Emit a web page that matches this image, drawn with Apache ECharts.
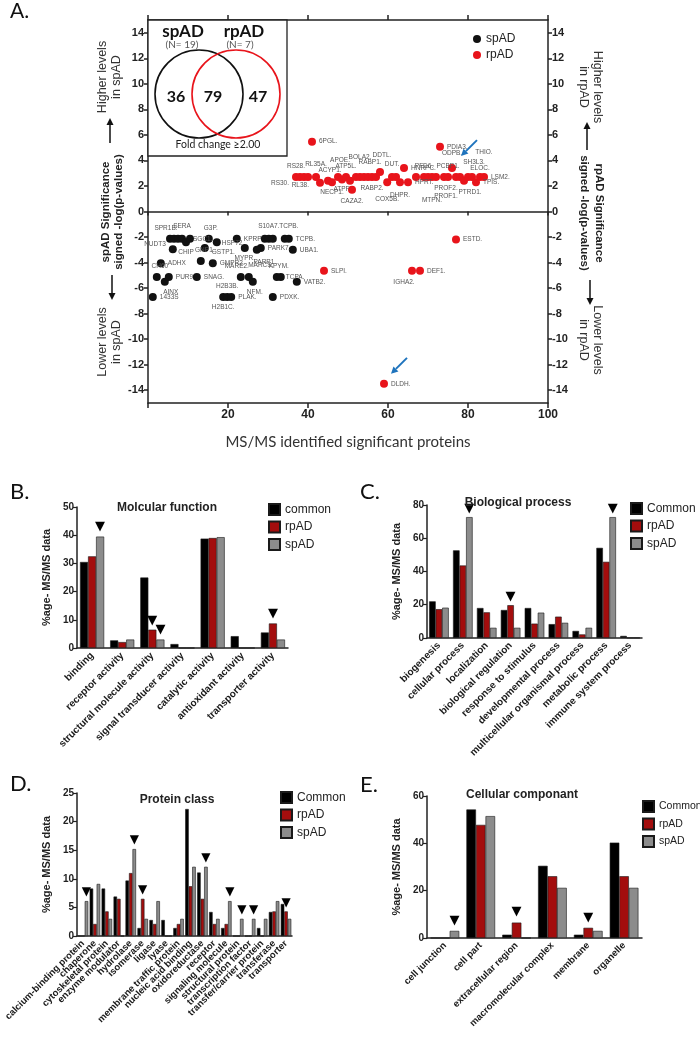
<!DOCTYPE html>
<html>
<head>
<meta charset="utf-8">
<script src="https://cdn.jsdelivr.net/npm/echarts@6/dist/echarts.min.js"></script>
<style>
  body { margin: 0; background: #fff; width: 700px; height: 1039px; position: relative; overflow: hidden; }
  .panel { position: absolute; }
</style>
</head>
<body>
<div id="chartA" class="panel" style="left:0;top:0;width:700px;height:470px"></div>
<div id="chartB" class="panel" style="left:0;top:480px;width:350px;height:280px"></div>
<div id="chartC" class="panel" style="left:350px;top:480px;width:350px;height:280px"></div>
<div id="chartD" class="panel" style="left:0;top:740px;width:350px;height:299px"></div>
<div id="chartE" class="panel" style="left:350px;top:740px;width:350px;height:299px"></div>
<script>
const FONT = '"Liberation Sans", Arial, sans-serif';
const BLACK = '#000000';
const RED = '#a30d0d';
const GREY = '#8c8c8c';

// ---- Panel A: significant proteins (x, signed -log p, name) ----
const spadPoints = [
  [5.5, -2.14, 'SPR1B.'], [6.5, -2.14, ''], [7.5, -2.14, ''], [8.5, -2.14, 'SERA'],
  [9.5, -2.4, 'CHIP'], [10.5, -2.14, 'SGC1.'], [6.2, -2.95, 'NUDT3'], [3.2, -4.05, 'ADHX'],
  [2.2, -5.13, 'CH60'], [4.2, -5.5, 'AINX'], [5.2, -5.13, 'PUR9'], [1.2, -6.7, '1433S'],
  [12.2, -5.13, 'SNAG.'], [13.2, -3.87, 'GNP1.'], [16.2, -4.05, 'GMPR2.'], [14.2, -2.85, 'GSTP1.'],
  [15.2, -2.14, 'G3P.'], [17.2, -2.4, 'HSP72'], [22.2, -2.14, 'KPRP.'], [24.2, -2.85, 'MYPR.'],
  [27.2, -3.0, 'PARP1.'], [28.2, -2.85, 'PARK7.'], [29.2, -2.14, ''], [30.2, -2.14, 'S10A7.'],
  [31.2, -2.14, ''], [34.2, -2.14, 'TCPB.'], [35.2, -2.14, 'TCPB.'], [36.2, -3.0, 'UBA1.'],
  [23.2, -5.13, 'MARE2.'], [25.2, -5.13, 'MARCS.'], [26.2, -5.5, 'NFM.'], [32.2, -5.13, 'KPYM.'],
  [33.2, -5.13, 'TCPA.'], [37.2, -5.5, 'VATB2.'], [18.8, -6.7, 'H2B1C.'], [19.8, -6.7, 'H2B3B.'],
  [20.8, -6.7, 'PLAK.'], [31.2, -6.7, 'PDXK.']
];
const rpadPoints = [
  [41, 5.47, '6PGL.'], [73, 5.07, 'PDIA3.'],
  [37, 2.7, 'RS30.'], [38, 2.7, 'RS28.'], [39, 2.7, ''], [40, 2.7, ''],
  [42, 2.7, 'RL35A.'], [43, 2.25, 'RL38.'], [45, 2.4, 'ACYP1.'], [46, 2.3, 'NECP1.'],
  [47.5, 2.7, 'APOE.'], [48.5, 2.5, 'ATPF.'], [49.5, 2.7, 'ATP5L.'], [50.5, 2.4, ''],
  [51, 1.7, 'CAZA2.'], [52, 2.7, ''], [53, 2.7, 'BOLA2.'], [54, 2.7, ''], [55, 2.7, 'RABP1.'],
  [56, 2.7, 'RABP2.'], [57, 2.7, ''], [58, 3.1, 'DDTL.'], [59.8, 2.3, 'COX5B.'], [61, 2.7, 'DUT.'],
  [62, 2.7, ''], [63, 2.3, 'DHPR.'], [64, 3.4, 'HNRPC.'], [65, 2.3, 'HPRT.'], [67, 2.7, ''],
  [69, 2.7, 'PFD6.'], [70, 2.7, ''], [71, 2.7, 'MTPN.'], [72, 2.7, ''], [74, 2.7, 'PROF2.\nPROF1.'],
  [75, 2.7, 'PCBP1.'], [76, 3.4, 'ODPB.'], [77, 2.7, ''], [78, 2.7, ''], [79, 2.4, 'PTRD1.'],
  [80, 2.7, 'SH3L3.'], [81, 2.7, 'ELOC.'], [82, 2.3, 'TPIS.'], [83, 2.7, 'THIO.'], [84, 2.7, 'LSM2.'],
  [44, -4.65, 'SLPI.'], [66, -4.65, 'IGHA2.'], [68, -4.65, 'DEF1.'], [77, -2.2, 'ESTD.'], [59, -13.5, 'DLDH.']
];
const yTickValues = [-14, -12, -10, -8, -6, -4, -2, 0, 2, 4, 6, 8, 10, 12, 14];
const vennCounts = ['36', '79', '47'];

// label placement for point names: [position, dx, dy]
const labelLayout = {
  'RS30.': ['left', 0, 6], 'RS28.': ['top', -4, 0], 'RL35A.': ['top', 0, -2], 'RL38.': ['left', -4, 2],
  'ACYP1.': ['top', 2, 0], 'NECP1.': ['bottom', 0, -1], 'APOE.': ['top', 2, -6], 'ATPF.': ['bottom', 0, -1],
  'ATP5L.': ['top', 0, 0], 'CAZA2.': ['bottom', 0, 0], 'BOLA2.': ['top', 0, -9], 'RABP1.': ['top', 2, -4],
  'RABP2.': ['bottom', 0, 0], 'DDTL.': ['top', 2, -6], 'COX5B.': ['bottom', 0, 6], 'DUT.': ['top', 0, -2],
  'DHPR.': ['bottom', 0, 2], 'PFD6.': ['top', 0, 0], 'MTPN.': ['bottom', 0, 12], 'PROF2.\nPROF1.': ['bottom', 2, 0],
  'PCBP1.': ['top', 0, 0], 'ODPB.': ['top', 0, -4], 'PTRD1.': ['bottom', 6, 0], 'SH3L3.': ['top', 6, -4],
  'ELOC.': ['top', 8, 2], 'THIO.': ['top', 4, -14], 'IGHA2.': ['bottom', -8, 0],
  'SPR1B.': ['top', -4, 0], 'SERA': ['top', 0, -2], 'CHIP': ['bottom', 0, 0], 'SGC1.': ['right', -4, 0],
  'NUDT3': ['left', 0, -5], 'CH60': ['top', 3, 0], 'AINX': ['bottom', 6, 0], 'GNP1.': ['top', 4, 0],
  'GSTP1.': ['right', 0, 4], 'G3P.': ['top', 2, 0], 'HSP72': ['right', -2, 1], 'MYPR.': ['bottom', 0, 0],
  'PARP1.': ['bottom', 8, 2], 'S10A7.': ['top', 0, -2], 'TCPB.@34.2': ['top', 4, -2], 'MARE2.': ['top', -4, 0],
  'MARCS.': ['top', 12, -1], 'NFM.': ['bottom', 2, 0], 'KPYM.': ['top', 2, 0], 'TCPA.': ['right', -2, 0],
  'H2B1C.': ['bottom', 0, 0], 'H2B3B.': ['top', 0, 0]
};

// ---- Panels B-E: %age of MS/MS data ----
const bCategories = ['binding', 'receptor activity', 'structural molecule activity', 'signal transducer activity',
  'catalytic activity', 'antioxidant activity', 'transporter activity'];
const bCommon = [30.5, 2.7, 25, 1.4, 38.8, 4.2, 5.5];
const bRpad = [32.5, 2.1, 6.5, 0, 39, 0, 8.7];
const bSpad = [39.5, 3.0, 3.0, 0, 39.3, 0, 3.0];
const bMarks = [[0, 2], [2, 1], [2, 2], [6, 1]];

const cCategories = ['biogenesis', 'cellular process', 'localization', 'biological regulation', 'response to stimulus',
  'developmental process', 'multicellular organismal process', 'metabolic process', 'immune system process'];
const cCommon = [22, 52.7, 18, 16.8, 18, 8.3, 4.2, 54.2, 1.2];
const cRpad = [17.3, 43.6, 15.4, 19.7, 8.6, 12.8, 2.1, 45.8, 0];
const cSpad = [18.2, 72.7, 6.1, 6.1, 15.2, 9.1, 6.1, 72.7, 0];
const cMarks = [[1, 2], [3, 1], [7, 2]];

const dCategories = ['calcium-binding protein', 'chaperone', 'cytoskeletal protein', 'enzyme modulator', 'hydrolase',
  'isomerase', 'ligase', 'lyase', 'membrane traffic protein', 'nucleic acid binding', 'oxidoreductase', 'receptor',
  'signaling molecule', 'structural protein', 'transcription factor', 'transfer/carrier protein', 'transferase', 'transporter'];
const dCommon = [0, 8.3, 8.3, 6.9, 9.7, 1.4, 2.8, 2.8, 1.4, 22.2, 11.1, 4.2, 1.4, 0, 0, 1.4, 4.2, 5.6];
const dRpad = [0, 2.1, 4.3, 6.5, 11, 6.5, 2.1, 0, 2.1, 8.7, 6.5, 2.1, 2.1, 0, 0, 0, 4.3, 4.3];
const dSpad = [6.1, 9.1, 3.0, 0, 15.2, 3.0, 6.1, 0, 3.0, 12.1, 12.1, 3.0, 6.1, 3.0, 3.0, 3.0, 6.1, 3.0];
const dMarks = [[0, 2], [4, 2], [5, 1], [10, 2], [12, 2], [13, 2], [14, 2], [17, 1]];

const eCategories = ['cell junction', 'cell part', 'extracellular region', 'macromolecular complex', 'membrane', 'organelle'];
const eCommon = [0, 54.3, 1.4, 30.5, 1.4, 40.3];
const eRpad = [0, 47.8, 6.5, 26.1, 4.3, 26.1];
const eSpad = [3.0, 51.5, 0, 21.2, 3.0, 21.2];
const eMarks = [[0, 2], [2, 1], [4, 1]];

// ---------- helpers ----------
const text = (str, x, y, font, opts = {}) => ({
  type: 'text', x, y, rotation: opts.rotation || 0, z: 20,
  style: {
    text: str, font, fill: opts.fill || '#222',
    textAlign: opts.align || 'center', textVerticalAlign: opts.valign || 'middle'
  }
});

const arrow = (x1, y1, x2, y2, color, width, head) => {
  const ang = Math.atan2(y2 - y1, x2 - x1);
  const bx = x2 - head * Math.cos(ang), by = y2 - head * Math.sin(ang);
  const px = Math.sin(ang) * head * 0.5, py = -Math.cos(ang) * head * 0.5;
  return [
    { type: 'line', z: 20, shape: { x1, y1, x2: bx, y2: by }, style: { stroke: color, lineWidth: width } },
    { type: 'polygon', z: 20, shape: { points: [[x2, y2], [bx + px, by + py], [bx - px, by - py]] }, style: { fill: color } }
  ];
};

const pointItems = (points) => points.map(([x, y, name]) => {
  const lay = labelLayout[name + '@' + x] || labelLayout[name] || ['right', 0, 0];
  return {
    value: [x, y], name,
    label: { show: name !== '', position: lay[0], offset: [lay[1], lay[2]] }
  };
});

// ---------- Panel A ----------
const chartA = echarts.init(document.getElementById('chartA'));
const axisLine = { lineStyle: { color: '#222', width: 1.5 } };
const tickLabel = { fontFamily: FONT, fontWeight: 'bold', fontSize: 11, color: '#222' };

chartA.setOption({
  animation: false,
  backgroundColor: '#fff',
  grid: { left: 148, top: 20, width: 400, height: 383 },
  legend: {
    data: ['spAD', 'rpAD'], orient: 'vertical', left: 468, top: 28,
    icon: 'circle', itemWidth: 8, itemHeight: 8, itemGap: 4,
    textStyle: { fontFamily: FONT, fontSize: 12, color: '#222' }
  },
  xAxis: [
    {
      type: 'value', min: 0, max: 100, interval: 20, position: 'bottom',
      axisLine: { onZero: false, ...axisLine },
      axisTick: { length: 5, lineStyle: { color: '#222', width: 1.5 } },
      axisLabel: { ...tickLabel, fontSize: 12, margin: 6, formatter: v => (v === 0 ? '' : v) },
      splitLine: { show: false },
      name: 'MS/MS identified significant proteins', nameLocation: 'middle', nameGap: 32,
      nameTextStyle: { fontFamily: 'Lato, "Open Sans", sans-serif', fontSize: 15, color: '#333' }
    },
    {
      type: 'value', min: 0, max: 100, interval: 20, position: 'top',
      axisLine: { onZero: false, ...axisLine },
      axisTick: { length: 5, lineStyle: { color: '#222', width: 1.5 } },
      axisLabel: { show: false }, splitLine: { show: false }
    },
    {
      type: 'value', min: 0, max: 100, interval: 20, position: 'bottom',
      axisLine: { onZero: true, onZeroAxisIndex: 0, ...axisLine },
      axisTick: { length: 4, lineStyle: { color: '#222', width: 1.5 } },
      axisLabel: { show: false }, splitLine: { show: false }
    }
  ],
  yAxis: [
    {
      type: 'value', min: -15, max: 15, position: 'left',
      axisLine: { onZero: false, ...axisLine },
      axisTick: { customValues: yTickValues, length: 4, lineStyle: { color: '#222', width: 1.5 } },
      axisLabel: { ...tickLabel, customValues: yTickValues, margin: 4 },
      splitLine: { show: false }
    },
    {
      type: 'value', min: -15, max: 15, position: 'right',
      axisLine: { onZero: false, ...axisLine },
      axisTick: { customValues: yTickValues, length: 4, lineStyle: { color: '#222', width: 1.5 } },
      axisLabel: { ...tickLabel, customValues: yTickValues, margin: 4 },
      splitLine: { show: false }
    }
  ],
  series: [
    {
      name: 'spAD', type: 'scatter', xAxisIndex: 0, yAxisIndex: 0,
      symbolSize: 8, itemStyle: { color: '#111', opacity: 1 },
      label: { formatter: '{b}', fontFamily: FONT, fontSize: 6.5, color: '#555', distance: 3 },
      emphasis: { disabled: true },
      data: pointItems(spadPoints)
    },
    {
      name: 'rpAD', type: 'scatter', xAxisIndex: 0, yAxisIndex: 0,
      symbolSize: 8, itemStyle: { color: '#e8141b', opacity: 1 },
      label: { formatter: '{b}', fontFamily: FONT, fontSize: 6.5, color: '#555', distance: 3, lineHeight: 8 },
      emphasis: { disabled: true },
      data: pointItems(rpadPoints)
    }
  ]
});

// annotations for panel A (venn inset, side titles, arrows)
const odpb = rpadPoints.find(p => p[2] === 'ODPB.');
const dldh = rpadPoints.find(p => p[2] === 'DLDH.');
const pO = chartA.convertToPixel({ xAxisIndex: 0, yAxisIndex: 0 }, [odpb[0], odpb[1]]);
const pD = chartA.convertToPixel({ xAxisIndex: 0, yAxisIndex: 0 }, [dldh[0], dldh[1]]);
const BLUE = '#1f74bd';
const CAL = 'Lato, "Open Sans", sans-serif';
const HALF = Math.PI / 2;

chartA.setOption({
  graphic: [
    text('A.', 10, 1, '21px ' + CAL, { align: 'left', valign: 'top', fill: '#111' }),
    { type: 'rect', z: 15, shape: { x: 148, y: 20, width: 139, height: 136 },
      style: { fill: '#fff', stroke: '#222', lineWidth: 1.3 } },
    { type: 'circle', z: 16, shape: { cx: 199, cy: 94, r: 44 }, style: { fill: 'none', stroke: '#111', lineWidth: 1.6 } },
    { type: 'circle', z: 16, shape: { cx: 236, cy: 94, r: 44 }, style: { fill: 'none', stroke: '#e8141b', lineWidth: 1.6 } },
    text('spAD', 183, 32, 'bold 17px ' + CAL, { fill: '#111' }),
    text('(N= 19)', 182, 45, '10px ' + CAL, { fill: '#555' }),
    text('rpAD', 244, 32, 'bold 17px ' + CAL, { fill: '#111' }),
    text('(N= 7)', 240, 45, '10px ' + CAL, { fill: '#555' }),
    text(vennCounts[0], 176, 97, 'bold 16px ' + CAL, { fill: '#111' }),
    text(vennCounts[1], 213, 97, 'bold 16px ' + CAL, { fill: '#111' }),
    text(vennCounts[2], 258, 97, 'bold 16px ' + CAL, { fill: '#111' }),
    text('Fold change \u22652.00', 218, 145, '10.5px ' + CAL, { fill: '#222' }),

    text('Higher levels', 103, 77, '12.5px ' + FONT, { rotation: HALF, fill: '#333' }),
    text('in spAD', 117, 77, '12.5px ' + FONT, { rotation: HALF, fill: '#333' }),
    ...arrow(110, 143, 110, 118, '#111', 1.5, 7),
    text('spAD Significance', 106, 212, 'bold 11.5px ' + FONT, { rotation: HALF, fill: '#222' }),
    text('signed -log(p-values)', 119, 212, 'bold 11.5px ' + FONT, { rotation: HALF, fill: '#222' }),
    ...arrow(112, 275, 112, 300, '#111', 1.5, 7),
    text('Lower levels', 103, 342, '12.5px ' + FONT, { rotation: HALF, fill: '#333' }),
    text('in spAD', 117, 342, '12.5px ' + FONT, { rotation: HALF, fill: '#333' }),

    text('Higher levels', 597, 87, '12.5px ' + FONT, { rotation: -HALF, fill: '#333' }),
    text('in rpAD', 583, 87, '12.5px ' + FONT, { rotation: -HALF, fill: '#333' }),
    ...arrow(587, 150, 587, 122, '#111', 1.5, 7),
    text('rpAD Significance', 599, 213, 'bold 11.5px ' + FONT, { rotation: -HALF, fill: '#222' }),
    text('signed -log(p-values)', 584, 213, 'bold 11.5px ' + FONT, { rotation: -HALF, fill: '#222' }),
    ...arrow(590, 280, 590, 305, '#111', 1.5, 7),
    text('Lower levels', 597, 340, '12.5px ' + FONT, { rotation: -HALF, fill: '#333' }),
    text('in rpAD', 583, 340, '12.5px ' + FONT, { rotation: -HALF, fill: '#333' }),

    ...arrow(pO[0] + 25, pO[1] - 28, pO[0] + 9, pO[1] - 12, BLUE, 2, 7),
    ...arrow(pD[0] + 23, pD[1] - 26, pD[0] + 7, pD[1] - 10, BLUE, 2, 7)
  ]
});

// ---------- Panels B-E ----------
function barPanel(id, p) {
  const chart = echarts.init(document.getElementById(id));
  const values = [p.common, p.rpad, p.spad];
  const colors = [BLACK, RED, GREY];
  const series = values.map((vals, si) => ({
    name: p.names[si], type: 'bar', barGap: '0%', barCategoryGap: p.gap,
    itemStyle: { color: colors[si], borderColor: '#1a1a1a', borderWidth: 0.6 },
    emphasis: { disabled: true },
    data: vals.map((v, ci) => {
      const marked = p.marks.some(m => m[0] === ci && m[1] === si);
      if (!marked) return v;
      return {
        value: v,
        label: { show: true, position: 'top', formatter: '\u25BC', distance: p.markGap,
          fontFamily: '"DejaVu Sans"', fontSize: p.markSize, color: '#000' }
      };
    })
  }));
  chart.setOption({
    animation: false,
    title: {
      text: p.title, left: p.titleX, top: p.titleY, textAlign: 'center',
      textStyle: { fontFamily: FONT, fontWeight: 'bold', fontSize: 12, color: '#222' }
    },
    legend: {
      data: p.names, orient: 'vertical', left: p.legendX, top: p.legendY, padding: 0,
      icon: 'rect', itemWidth: 11, itemHeight: 11, itemGap: 4.5,
      textStyle: { fontFamily: FONT, fontSize: p.legendSize || 12, color: '#222' }
    },
    grid: { left: 77, top: p.top, width: p.width, height: p.height },
    xAxis: {
      type: 'category', data: p.categories,
      axisLine: { lineStyle: { color: '#222', width: 1.5 } },
      axisTick: { alignWithLabel: true, length: 4, lineStyle: { color: '#222', width: 1.2 } },
      axisLabel: { interval: 0, rotate: 45, margin: 6, fontFamily: FONT, fontWeight: 'bold',
        fontSize: p.catSize, color: '#1a1a1a' }
    },
    yAxis: {
      type: 'value', min: 0, max: p.yMax, interval: p.yStep,
      axisLine: { show: true, lineStyle: { color: '#222', width: 1.5 } },
      axisTick: { show: true, length: 4, lineStyle: { color: '#222', width: 1.2 } },
      axisLabel: { fontFamily: FONT, fontWeight: 'bold', fontSize: 10, color: '#222', margin: 3 },
      splitLine: { show: false },
      name: '%age- MS/MS data', nameLocation: 'middle', nameGap: 21,
      nameTextStyle: { fontFamily: FONT, fontWeight: 'bold', fontSize: 11, color: '#222' }
    },
    graphic: [text(p.letter, 10, p.letterY, '22px ' + CAL, { align: 'left', valign: 'top', fill: '#111' })],
    series
  });
}

barPanel('chartB', {
  letter: 'B.', letterY: 1, title: 'Molcular function', titleX: 162, titleY: 17,
  names: ['common', 'rpAD', 'spAD'], legendX: 268, legendY: 23,
  categories: bCategories, common: bCommon, rpad: bRpad, spad: bSpad, marks: bMarks,
  top: 27, width: 211, height: 141, yMax: 50, yStep: 10, gap: '20%', catSize: 10, markSize: 13, markGap: 3
});
barPanel('chartC', {
  letter: 'C.', letterY: 1, title: 'Biological process', titleX: 163, titleY: 12,
  names: ['Common', 'rpAD', 'spAD'], legendX: 280, legendY: 22,
  categories: cCategories, common: cCommon, rpad: cRpad, spad: cSpad, marks: cMarks,
  top: 25, width: 215, height: 142, yMax: 80, yStep: 20, gap: '18%', catSize: 10, markSize: 13, markGap: 2
});
barPanel('chartD', {
  letter: 'D.', letterY: 33, title: 'Protein class', titleX: 172, titleY: 49,
  names: ['Common', 'rpAD', 'spAD'], legendX: 280, legendY: 51,
  categories: dCategories, common: dCommon, rpad: dRpad, spad: dSpad, marks: dMarks,
  top: 53, width: 215, height: 143, yMax: 25, yStep: 5, gap: '12%', catSize: 9.5, markSize: 12, markGap: 3
});
barPanel('chartE', {
  letter: 'E.', letterY: 34, title: 'Cellular componant', titleX: 167, titleY: 44,
  names: ['Common', 'rpAD', 'spAD'], legendX: 292, legendY: 60, legendSize: 10.5,
  categories: eCategories, common: eCommon, rpad: eRpad, spad: eSpad, marks: eMarks,
  top: 56, width: 215, height: 142, yMax: 60, yStep: 20, gap: '20%', catSize: 9.5, markSize: 13, markGap: 4
});
</script>
</body>
</html>
